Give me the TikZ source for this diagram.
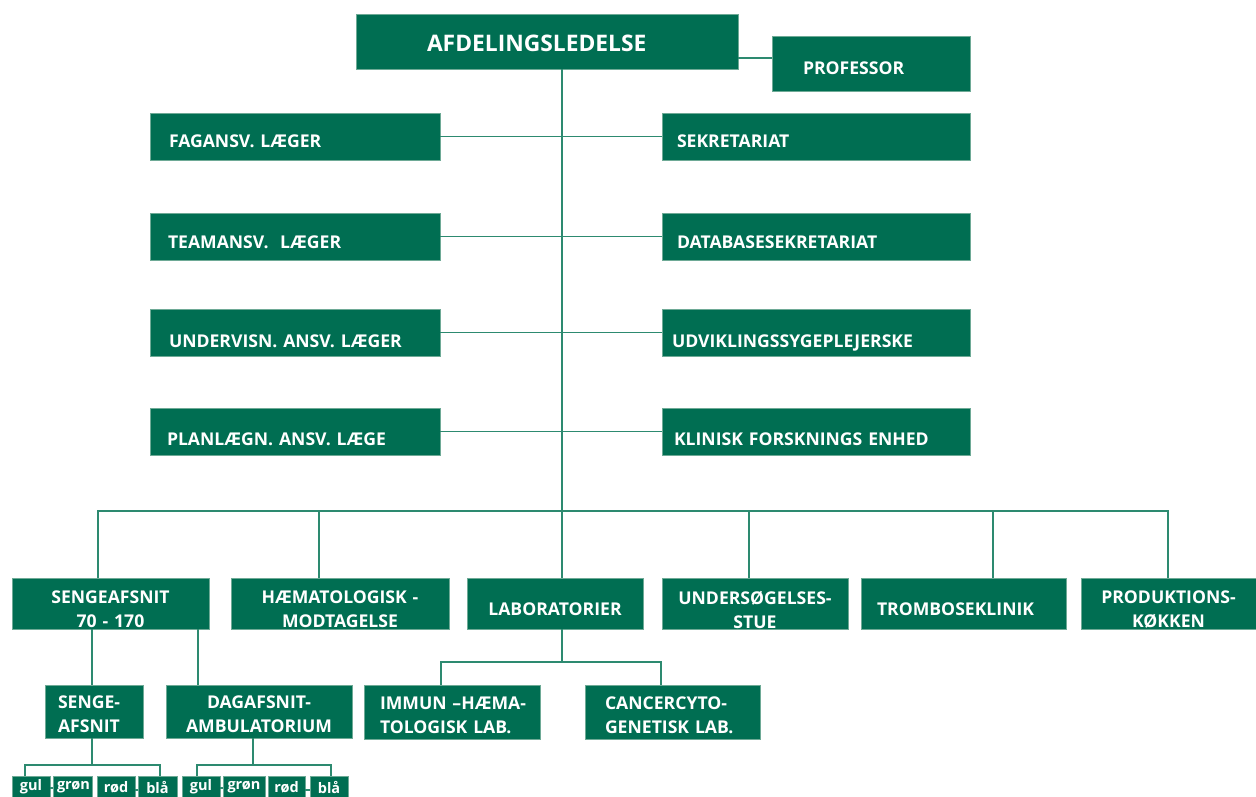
\documentclass[tikz,border=0pt]{standalone}
\usepackage{fontspec}
\setsansfont{Open Sans}
\definecolor{boxgreen}{RGB}{0,110,82}
\definecolor{linegreen}{RGB}{45,138,112}
\definecolor{edgegreen}{RGB}{110,170,150}
\newcommand\lowr[2]{\raisebox{-#1pt}[\dimexpr\height+#1pt\relax][\dimexpr\depth-#1pt\relax]{#2}}
\begin{document}
\begin{tikzpicture}[x=1pt,y=-1pt,
  bx/.style={fill=boxgreen, draw=edgegreen, line width=0.5pt, text=white,
    font=\sffamily\bfseries\fontsize{17.6}{24}\selectfont,
    inner ysep=0pt, anchor=north west, outer sep=0pt},
  lft/.style n args={3}{minimum width=#1pt, minimum height=#2pt, text width=#1pt-2*#3pt, inner xsep=#3pt, align=left},
  ctr/.style n args={2}{minimum width=#1pt, minimum height=#2pt, text width=#1pt-8pt, inner xsep=4pt, align=center},
  tiny/.style={font=\sffamily\bfseries\fontsize{14.5}{18}\selectfont},
  big/.style={font=\sffamily\bfseries\fontsize{22.8}{26}\selectfont},
  ln/.style={draw=linegreen, line width=1.4pt}]
\useasboundingbox (0,0) rectangle (1256,796);
\clip (0,0) rectangle (1256,796);

% top
\node[bx, big, lft={382}{55}{71}] (afd) at (356,14) {\lowr{1}{AFDELINGSLEDELSE}};
\node[bx, lft={198}{55}{31}] (prof) at (772,36) {\lowr{3}{PROFESSOR}};

% left column
\node[bx, lft={290}{47}{19}] (fag) at (150,113) {\lowr{3}{FAGANSV. LÆGER}};
\node[bx, lft={290}{47}{18}] (team) at (150,213) {\lowr{3.5}{TEAMANSV.\ \ LÆGER}};
\node[bx, lft={290}{47}{19}] (und) at (150,309) {\lowr{5.5}{UNDERVISN. ANSV. LÆGER}};
\node[bx, lft={290}{47}{17}] (plan) at (150,408) {\lowr{5}{PLANLÆGN. ANSV. LÆGE}};

% right column
\node[bx, lft={308}{47}{15}] (sek) at (662,113) {\lowr{3}{SEKRETARIAT}};
\node[bx, lft={308}{47}{15}] (data) at (662,213) {\lowr{3.5}{DATABASESEKRETARIAT}};
\node[bx, lft={308}{47}{10}] (udv) at (662,309) {\lowr{5.5}{UDVIKLINGSSYGEPLEJERSKE}};
\node[bx, lft={308}{47}{12}] (klin) at (662,408) {\lowr{5}{KLINISK FORSKNINGS ENHED}};

% row 3
\node[bx, ctr={197}{51}] (seng) at (12,578) {\lowr{4}{SENGEAFSNIT}\\\lowr{4}{70 - 170}};
\node[bx, ctr={218}{51}] (haem) at (231,578) {\lowr{4}{HÆMATOLOGISK -}\\\lowr{4}{MODTAGELSE}};
\node[bx, ctr={176}{51}] (lab) at (467,578) {\lowr{4}{LABORATORIER}};
\node[bx, ctr={186}{51}] (usg) at (662,578) {\lowr{4}{UNDERSØGELSES-}\\\lowr{4}{STUE}};
\node[bx, lft={205}{51}{16}] (trom) at (861,578) {\lowr{4}{TROMBOSEKLINIK}};
\node[bx, ctr={175}{51}] (prod) at (1081,578) {\lowr{4}{PRODUKTIONS-}\\\lowr{4}{KØKKEN}};

% row 4
\node[bx, lft={98}{53}{13}] (sa) at (45,685) {\lowr{2}{SENGE-}\\\lowr{2}{AFSNIT}};
\node[bx, ctr={186}{53}] (da) at (166,685) {\lowr{2}{DAGAFSNIT-}\\\lowr{2}{AMBULATORIUM}};
\node[bx, lft={176}{54}{16}] (im) at (364,685) {\lowr{2}{IMMUN –HÆMA-}\\\lowr{2}{TOLOGISK LAB.}};
\node[bx, lft={175}{54}{20}] (ca) at (585,685) {\lowr{2}{CANCERCYTO-}\\\lowr{2}{GENETISK LAB.}};

% row 5
\node[bx, tiny, ctr={38}{22}] (gulA) at (12,776) {gul};
\node[bx, tiny, ctr={39}{22}] (gronA) at (53,776) {grøn};
\node[bx, tiny, ctr={38}{22}] (rodA) at (97,776) {rød};
\node[bx, tiny, ctr={39}{22}] (blaA) at (138,776) {blå};
\node[bx, tiny, ctr={38}{22}] (gulB) at (182,776) {gul};
\node[bx, tiny, ctr={42}{22}] (gronB) at (223,776) {grøn};
\node[bx, tiny, ctr={37}{22}] (rodB) at (268,776) {rød};
\node[bx, tiny, ctr={38}{22}] (blaB) at (310,776) {blå};

% coordinates
\coordinate (hub) at (562,511);
\coordinate (h1) at (98,511);
\coordinate (h2) at (319,511);
\coordinate (h4) at (749,511);
\coordinate (h5) at (993,511);
\coordinate (h6) at (1168,511);
\coordinate (s1) at (92,0);
\coordinate (s2) at (198,0);
\coordinate (l1) at (441,662);
\coordinate (l2) at (661,662);
\coordinate (l0) at (562,662);
\coordinate (a0) at (92,765);
\coordinate (a1) at (25,765);
\coordinate (a2) at (160,765);
\coordinate (b0) at (253,765);
\coordinate (b1) at (197,765);
\coordinate (b2) at (331,765);

% connectors
\draw[ln] (afd.south -| hub) -- (hub);
\draw[ln] (afd.east |- 0,58) -- (prof.west |- 0,58);
\draw[ln] (fag.east) -- (sek.west);
\draw[ln] (team.east) -- (data.west);
\draw[ln] (und.east) -- (udv.west);
\draw[ln] (plan.east) -- (klin.west);
\draw[ln] (h1 |- seng.north) -- (h1) -- (h6) -- (h6 |- prod.north);
\draw[ln] (h2) -- (h2 |- haem.north);
\draw[ln] (hub) -- (hub |- lab.north);
\draw[ln] (h4) -- (h4 |- usg.north);
\draw[ln] (h5) -- (h5 |- trom.north);
\draw[ln] (s1 |- seng.south) -- (s1 |- sa.north);
\draw[ln] (s2 |- seng.south) -- (s2 |- da.north);
\draw[ln] (lab.south -| l0) -- (l0);
\draw[ln] (l1 |- im.north) -- (l1) -- (l2) -- (l2 |- ca.north);
\draw[ln] (sa.south -| a0) -- (a0);
\draw[ln] (a1 |- gulA.north) -- (a1) -- (a2) -- (a2 |- blaA.north);
\draw[ln] (da.south -| b0) -- (b0);
\draw[ln] (b1 |- gulB.north) -- (b1) -- (b2) -- (b2 |- blaB.north);
\draw[ln] ([yshift=-1pt]gulA.east) -- ([yshift=-1pt]gronA.west);
\draw[ln] ([yshift=-3pt]rodA.east) -- ([yshift=-3pt]blaA.west);
\draw[ln] ([yshift=-1pt]gulB.east) -- ([yshift=-1pt]gronB.west);
\draw[ln] ([yshift=-3pt]rodB.east) -- ([yshift=-3pt]blaB.west);
\end{tikzpicture}
\end{document}
